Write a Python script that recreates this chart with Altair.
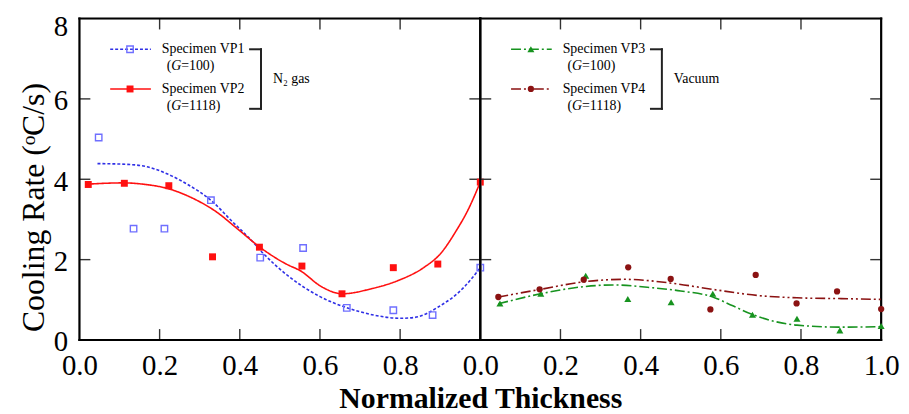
import altair as alt
import pandas as pd

FONT = "Liberation Serif"

# ---------------- data ----------------
# Left panel: N2 gas
VP1_X = [0.048, 0.135, 0.212, 0.328, 0.451, 0.558, 0.667, 0.783, 0.881, 1.0]
VP1_Y = [5.04, 2.77, 2.77, 3.48, 2.05, 2.29, 0.80, 0.74, 0.62, 1.80]
VP1_FIT_X = [0.045, 0.12, 0.165, 0.22, 0.27, 0.33, 0.38, 0.43, 0.46, 0.52, 0.60,
             0.665, 0.73, 0.80, 0.835, 0.895, 0.96, 1.0]
VP1_FIT_Y = [4.39, 4.37, 4.32, 4.13, 3.87, 3.46, 2.96, 2.47, 2.14, 1.60, 1.08,
             0.81, 0.63, 0.54, 0.56, 0.82, 1.32, 1.80]

VP2_X = [0.022, 0.112, 0.223, 0.332, 0.449, 0.555, 0.655, 0.783, 0.894, 1.0]
VP2_Y = [3.87, 3.90, 3.84, 2.07, 2.31, 1.84, 1.15, 1.80, 1.89, 3.93]
VP2_FIT_X = [0.022, 0.11, 0.165, 0.22, 0.28, 0.34, 0.395, 0.45, 0.52, 0.55, 0.605,
             0.655, 0.73, 0.795, 0.86, 0.90, 0.94, 0.97, 1.0]
VP2_FIT_Y = [3.88, 3.91, 3.87, 3.77, 3.54, 3.20, 2.76, 2.31, 1.87, 1.73, 1.32,
             1.15, 1.28, 1.48, 1.81, 2.14, 2.72, 3.25, 3.93]

# Right panel: vacuum
VP3_X = [0.049, 0.151, 0.263, 0.368, 0.476, 0.580, 0.679, 0.790, 0.897, 1.0]
VP3_Y = [0.91, 1.15, 1.60, 1.02, 0.94, 1.15, 0.63, 0.53, 0.24, 0.35]
VP3_FIT_X = [0.045, 0.15, 0.26, 0.33, 0.43, 0.50, 0.58, 0.63, 0.68, 0.79, 0.90, 1.0]
VP3_FIT_Y = [0.90, 1.15, 1.33, 1.37, 1.30, 1.22, 1.07, 0.85, 0.63, 0.37, 0.32, 0.33]

VP4_X = [0.045, 0.148, 0.258, 0.369, 0.475, 0.574, 0.687, 0.789, 0.890, 1.0]
VP4_Y = [1.07, 1.26, 1.50, 1.81, 1.52, 0.76, 1.62, 0.91, 1.21, 0.77]
VP4_FIT_X = [0.045, 0.15, 0.26, 0.36, 0.48, 0.58, 0.69, 0.79, 0.90, 1.0]
VP4_FIT_Y = [1.07, 1.26, 1.45, 1.51, 1.41, 1.26, 1.11, 1.05, 1.03, 1.01]

LEFT_X_LABELS = [0.0, 0.2, 0.4, 0.6, 0.8]
RIGHT_X_LABELS = [0.0, 0.2, 0.4, 0.6, 0.8, 1.0]
Y_LABELS = [0, 2, 4, 6, 8]
TICKS_X = [0.2, 0.4, 0.6, 0.8]
TICKS_Y = [2, 4, 6]
X_RANGE = [0.0, 1.0]
Y_RANGE = [0, 8]

# ---------------- styles ----------------
W, H = 404, 324
TICK_PX = 11
BLUE_LINE, BLUE_PT = "#2f2fe6", "#6f6fff"
RED = "#ff1010"
GREEN = "#17931f"
DRED = "#8b1212"
FRAME = "#000000"
ONE = pd.DataFrame({"k": [0]})


def x_enc(labels, title):
    kw = dict(values=labels, format=".1f", ticks=False, domain=False, grid=False,
              labelFont=FONT, labelFontSize=29, labelColor="black", labelPadding=12,
              labelFlush=False, labelOverlap=False)
    if title:
        kw.update(title=title, titleFont=FONT, titleFontSize=30, titleFontWeight="bold",
                  titleColor="black", titleX=W, titleY=68, titleAlign="center",
                  titleBaseline="alphabetic")
    else:
        kw.update(title=None)
    return alt.X("x:Q", scale=alt.Scale(domain=X_RANGE, nice=False, zero=False),
                 axis=alt.Axis(**kw))


def y_enc(show):
    sc = alt.Scale(domain=Y_RANGE, nice=False)
    if not show:
        return alt.Y("y:Q", scale=sc, axis=None)
    ax = alt.Axis(values=Y_LABELS, ticks=False, domain=False, grid=False,
                  labelFont=FONT, labelFontSize=29, labelColor="black", labelPadding=12,
                  labelBaseline="middle", labelFlush=False, labelOverlap=False,
                  labelOffset={"condition": {"test": "datum.value == 8", "value": 8},
                               "value": 2},
                  title="Cooling Rate (ᵒC/s)", titleFont=FONT, titleFontSize=32,
                  titleFontWeight="normal", titleColor="black", titlePadding=3,
                  titleY=190)
    return alt.Y("y:Q", scale=sc, axis=ax)


def frame_and_ticks(X, Y):
    x0, x1 = X_RANGE
    y0, y1 = Y_RANGE
    dx = (x1 - x0) * TICK_PX / W
    dy = (y1 - y0) * TICK_PX / H
    rows = []
    g = 0
    for t in TICKS_X:
        rows += [(t, y0, g), (t, y0 + dy, g)]
        g += 1
        rows += [(t, y1, g), (t, y1 - dy, g)]
        g += 1
    for t in TICKS_Y:
        rows += [(x0, t, g), (x0 + dx, t, g)]
        g += 1
        rows += [(x1, t, g), (x1 - dx, t, g)]
        g += 1
    tk = pd.DataFrame(rows, columns=["x", "y", "g"])
    # frame: each side as its own two-point segment
    sides = pd.DataFrame({
        "x": [x0, x1, x1, x1, x1, x0, x0, x0],
        "y": [y0, y0, y0, y1, y1, y1, y1, y0],
        "g": [0, 0, 1, 1, 2, 2, 3, 3],
    })
    return [
        alt.Chart(tk).mark_line(color="#333333", strokeWidth=1.4)
        .encode(x=X, y=Y, detail="g:N"),
        alt.Chart(sides).mark_line(color=FRAME, strokeWidth=2.2, strokeCap="square")
        .encode(x=X, y=Y, detail="g:N"),
    ]


def series(X, Y, px, py, fx, fy, lcolor, dash, shape, filled, mcolor, size):
    fit = pd.DataFrame({"x": fx, "y": fy})
    pts = pd.DataFrame({"x": px, "y": py})
    line = alt.Chart(fit).mark_line(color=lcolor, strokeDash=dash, strokeWidth=1.6,
                                    interpolate="monotone").encode(x=X, y=Y)
    if filled:
        pm = alt.Chart(pts).mark_point(shape=shape, filled=True, fill=mcolor,
                                       size=size, opacity=1, strokeWidth=0)
    else:
        pm = alt.Chart(pts).mark_point(shape=shape, filled=False, stroke=mcolor,
                                       size=size, opacity=1, strokeWidth=1.4)
    return [line, pm.encode(x=X, y=Y)]


def txt(s, x, y, italic=False, size=14):
    kw = dict(text=s, align="left", baseline="middle", font=FONT, fontSize=size,
              color="black")
    if italic:
        kw["fontStyle"] = "italic"
    return alt.Chart(ONE).mark_text(**kw).encode(x=alt.value(x), y=alt.value(y))


def legend(entries, group_label):
    layers = []
    ys = [31, 71]
    for (name, g, lcolor, dash, shape, filled, mcolor, size), y in zip(entries, ys):
        layers.append(alt.Chart(ONE).mark_rule(color=lcolor, strokeDash=dash,
                                               strokeWidth=1.6)
                      .encode(x=alt.value(31), x2=alt.value(72), y=alt.value(y)))
        if filled:
            pm = alt.Chart(ONE).mark_point(shape=shape, filled=True, fill=mcolor,
                                           size=size, opacity=1, strokeWidth=0)
        else:
            pm = alt.Chart(ONE).mark_point(shape=shape, filled=False, stroke=mcolor,
                                           size=size, opacity=1, strokeWidth=1.4)
        layers.append(pm.encode(x=alt.value(51), y=alt.value(y)))
        layers.append(txt(name, 83, y))
        layers.append(txt("(", 88, y + 17))
        layers.append(txt("G", 92.5, y + 17, italic=True))
        layers.append(txt("=" + g + ")", 102.5, y + 17))
    bst = dict(color="#222222", strokeWidth=2)
    layers.append(alt.Chart(ONE).mark_rule(**bst).encode(
        x=alt.value(183), y=alt.value(30), y2=alt.value(92)))
    layers.append(alt.Chart(ONE).mark_rule(**bst).encode(
        x=alt.value(171), x2=alt.value(184), y=alt.value(31)))
    layers.append(alt.Chart(ONE).mark_rule(**bst).encode(
        x=alt.value(171), x2=alt.value(184), y=alt.value(91)))
    layers.append(txt(group_label, 195, 61))
    return layers


# ---------------- left panel ----------------
XL = x_enc(LEFT_X_LABELS, "Normalized Thickness")
YL = y_enc(True)
left_layers = (frame_and_ticks(XL, YL)
               + series(XL, YL, VP1_X, VP1_Y, VP1_FIT_X, VP1_FIT_Y, BLUE_LINE, [3, 2],
                        "square", False, BLUE_PT, 42)
               + series(XL, YL, VP2_X, VP2_Y, VP2_FIT_X, VP2_FIT_Y, RED, [1, 0],
                        "square", True, RED, 49)
               + legend([("Specimen VP1", "100", BLUE_LINE, [3, 2], "square", False, BLUE_PT, 42),
                         ("Specimen VP2", "1118", RED, [1, 0], "square", True, RED, 49)],
                        "N₂ gas"))
left = alt.layer(*left_layers).properties(width=W, height=H)

# ---------------- right panel ----------------
XR = x_enc(RIGHT_X_LABELS, None)
YR = y_enc(False)
right_layers = (frame_and_ticks(XR, YR)
                + series(XR, YR, VP3_X, VP3_Y, VP3_FIT_X, VP3_FIT_Y, GREEN, [10, 3, 2, 3],
                         "triangle-up", True, GREEN, 50)
                + series(XR, YR, VP4_X, VP4_Y, VP4_FIT_X, VP4_FIT_Y, DRED, [10, 3, 2, 3, 2, 3],
                         "circle", True, DRED, 40)
                + legend([("Specimen VP3", "100", GREEN, [10, 3, 2, 3], "triangle-up", True, GREEN, 50),
                          ("Specimen VP4", "1118", DRED, [10, 3, 2, 3, 2, 3], "circle", True, DRED, 40)],
                         "Vacuum"))
right = alt.layer(*right_layers).properties(width=W, height=H)

chart = (alt.hconcat(left, right, spacing=0, bounds="flush")
         .properties(padding={"left": 9, "top": 2, "right": 1, "bottom": 2})
         .configure_view(stroke="black", strokeWidth=2)
         .configure(background="white"))

chart.save("out.html", embed_options={"renderer": "svg", "actions": False})
